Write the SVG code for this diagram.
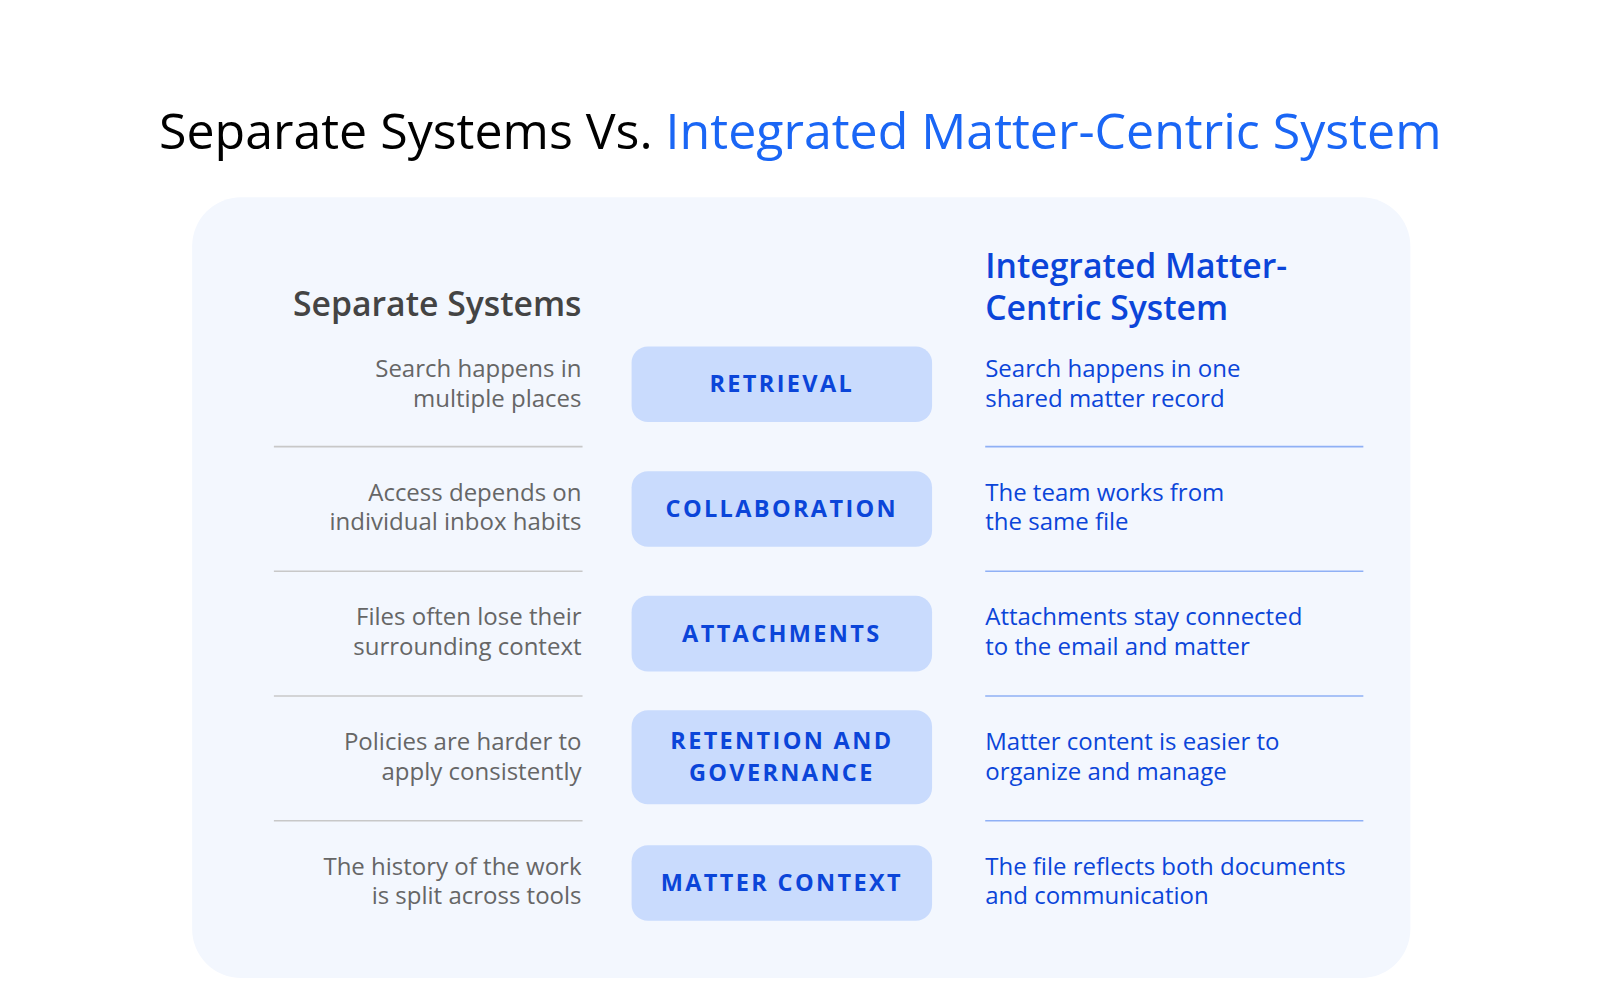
<svg xmlns="http://www.w3.org/2000/svg" width="1600" height="1000" viewBox="0 0 1600 1000">
<style>
text{font-family:"Open Sans","Liberation Sans",sans-serif}
.title{font-size:49px;font-weight:500}
.lh{font-size:33px;font-weight:600;fill:#444}
.rh{font-size:33px;font-weight:600;fill:#0b45d9}
.l{font-size:23.5px;fill:#666;text-anchor:end}
.r{font-size:23.5px;fill:#0b45d9}
.pill{fill:#c9dbfd}
.pt{font-size:23px;font-weight:700;fill:#0b45d9;text-anchor:middle;letter-spacing:2.3px}
.ls{stroke:#c8c8c8;stroke-width:1.5}
.rs{stroke:#8fb0f5;stroke-width:1.5}
</style>
<rect width="1600" height="1000" fill="#fff"/>
<g transform="scale(1.022)">
<text x="783" y="146" class="title" text-anchor="middle"><tspan fill="#000">Separate Systems Vs. </tspan><tspan fill="#1a66f5">Integrated Matter-Centric System</tspan></text>
<rect x="188" y="193" width="1192" height="764" rx="48" fill="#f3f7fe"/>
<text x="569" y="309" class="lh" text-anchor="end">Separate Systems</text>
<text x="964" y="272" class="rh">Integrated Matter-</text>
<text x="964" y="313" class="rh">Centric System</text>
<g id="connectors">
<line x1="268" y1="437" x2="570" y2="437" class="ls"/><line x1="964" y1="437" x2="1334" y2="437" class="rs"/>
<line x1="268" y1="559" x2="570" y2="559" class="ls"/><line x1="964" y1="559" x2="1334" y2="559" class="rs"/>
<line x1="268" y1="681" x2="570" y2="681" class="ls"/><line x1="964" y1="681" x2="1334" y2="681" class="rs"/>
<line x1="268" y1="803" x2="570" y2="803" class="ls"/><line x1="964" y1="803" x2="1334" y2="803" class="rs"/>
</g>
<g id="row1"><text x="569" y="369" class="l">Search happens in</text><text x="569" y="398" class="l">multiple places</text>
<rect x="618" y="339" width="294" height="74" rx="16" class="pill"/><text x="765" y="384" class="pt">RETRIEVAL</text>
<text x="964" y="369" class="r">Search happens in one</text><text x="964" y="398" class="r">shared matter record</text></g>
<g id="row2"><text x="569" y="490" class="l">Access depends on</text><text x="569" y="519" class="l">individual inbox habits</text>
<rect x="618" y="461" width="294" height="74" rx="16" class="pill"/><text x="765" y="506" class="pt">COLLABORATION</text>
<text x="964" y="490" class="r">The team works from</text><text x="964" y="519" class="r">the same file</text></g>
<g id="row3"><text x="569" y="612" class="l">Files often lose their</text><text x="569" y="641" class="l">surrounding context</text>
<rect x="618" y="583" width="294" height="74" rx="16" class="pill"/><text x="765" y="628" class="pt">ATTACHMENTS</text>
<text x="964" y="612" class="r">Attachments stay connected</text><text x="964" y="641" class="r">to the email and matter</text></g>
<g id="row4"><text x="569" y="734" class="l">Policies are harder to</text><text x="569" y="763" class="l">apply consistently</text>
<rect x="618" y="695" width="294" height="92" rx="16" class="pill"/><text x="765" y="733" class="pt">RETENTION AND</text><text x="765" y="764" class="pt">GOVERNANCE</text>
<text x="964" y="734" class="r">Matter content is easier to</text><text x="964" y="763" class="r">organize and manage</text></g>
<g id="row5"><text x="569" y="856" class="l">The history of the work</text><text x="569" y="885" class="l">is split across tools</text>
<rect x="618" y="827" width="294" height="74" rx="16" class="pill"/><text x="765" y="872" class="pt">MATTER CONTEXT</text>
<text x="964" y="856" class="r">The file reflects both documents</text><text x="964" y="885" class="r">and communication</text></g>
</g>
</svg>
